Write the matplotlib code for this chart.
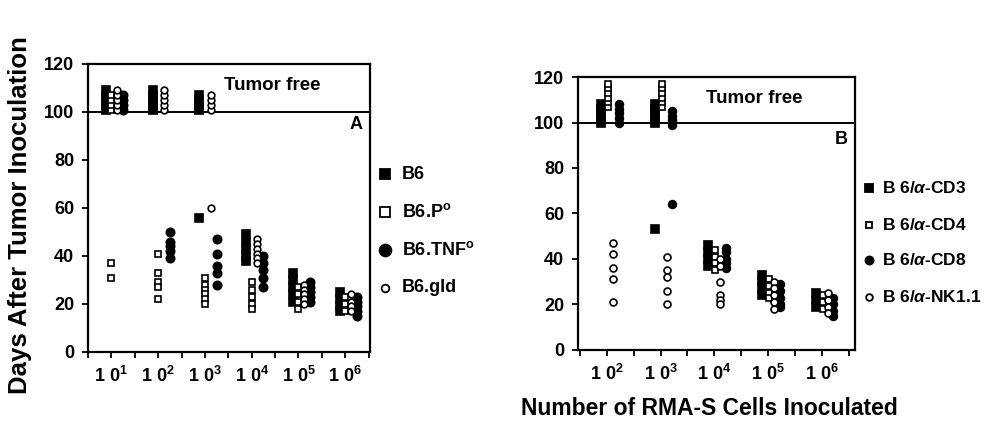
import matplotlib

matplotlib.use("Agg")

import matplotlib.pyplot as plt

plt.rcParams.update(
    {
        "font.family": "Liberation Sans",
        "font.weight": "bold",
        "mathtext.fontset": "custom",
        "mathtext.rm": "Liberation Sans:bold",
        "mathtext.bf": "Liberation Sans:bold",
        "mathtext.it": "Liberation Sans:italic",
        "mathtext.default": "bf",
    }
)

# ---- panel A data (days; >100 = tumor free, stacked) ----
A_DECADES = [1, 2, 3, 4, 5, 6]
A_B6 = [
    [101, 103, 105, 107, 109],
    [101, 103, 105, 107, 109],
    [101, 103, 105, 107, 56],
    [49, 46, 43, 40, 38],
    [33, 30, 27, 24, 21],
    [25, 22, 19, 17],
]
A_P0 = [
    [101, 103, 105, 107, 37, 31],
    [41, 33, 29, 27, 22],
    [31, 28, 26, 24, 22, 20],
    [29, 26, 23, 20, 18],
    [27, 24, 21, 18],
    [23, 20, 17],
]
A_TNF0 = [
    [101, 103, 105, 107],
    [50, 46, 44, 42, 39],
    [47, 41, 36, 33, 28],
    [40, 37, 34, 31, 27],
    [29, 27, 25, 23, 21],
    [23, 21, 19, 17, 15],
]
A_GLD = [
    [101, 103, 105, 107, 109],
    [101, 103, 105, 107, 109],
    [101, 103, 105, 107, 60],
    [47, 45, 43, 41, 39, 37],
    [28, 26, 24, 22, 20],
    [24, 21, 19, 17],
]
A_LABELS = ["B6", "B6.P$^{o}$", "B6.TNF$^{o}$", "B6.gld"]

# ---- panel B data ----
B_DECADES = [2, 3, 4, 5, 6]
B_CD3 = [
    [100, 102, 104, 106, 108],
    [100, 102, 104, 106, 108, 53],
    [46, 43, 40, 37],
    [33, 30, 27, 24],
    [25, 22, 19],
]
B_CD4 = [
    [107, 109, 111, 113, 115, 117],
    [107, 109, 111, 113, 115, 117],
    [44, 41, 38, 35],
    [31, 28, 25, 23],
    [24, 21, 18],
]
B_CD8 = [
    [100, 102, 104, 106, 108],
    [99, 101, 103, 105, 64],
    [45, 43, 40, 38, 36],
    [29, 26, 23, 20, 19],
    [23, 20, 17, 15],
]
B_NK = [
    [47, 42, 36, 31, 21],
    [41, 35, 32, 26, 20],
    [40, 37, 30, 24, 22, 20],
    [30, 27, 24, 21, 18],
    [25, 22, 19, 16],
]
B_LABELS = [r"B 6/$\mathit{\alpha}$-CD3", r"B 6/$\mathit{\alpha}$-CD4",
            r"B 6/$\mathit{\alpha}$-CD8", r"B 6/$\mathit{\alpha}$-NK1.1"]

Y_TICKS = [0, 20, 40, 60, 80, 100, 120]

# marker styles: (marker, filled, size, x offset in decades)
A_STYLES = [("s", True, 6.0, -0.12), ("s", False, 5.0, 0.0),
            ("o", True, 6.0, 0.25), ("o", False, 4.8, 0.12)]
B_STYLES = [("s", True, 6.0, -0.11), ("s", False, 4.6, 0.02),
            ("o", True, 5.6, 0.22), ("o", False, 5.0, 0.11)]
A_LEG_SIZES = [7.5, 6.5, 8.5, 5.5]
B_LEG_SIZES = [5.5, 5.0, 5.8, 4.8]


def draw_series(ax, decades, series, style):
    marker, filled, size, off = style
    for d, vals in zip(decades, series):
        xs = [d + off] * len(vals)
        ax.plot(xs, vals, linestyle="none", marker=marker, markersize=size,
                markerfacecolor="black" if filled else "white",
                markeredgecolor="black", markeredgewidth=1.2, clip_on=False, zorder=3)


def setup_axes(ax, decades, xlim, letter, letter_y, tf_xy):
    ax.set_xlim(*xlim)
    ax.set_ylim(0, 120)
    ax.set_yticks(Y_TICKS)
    ax.set_yticklabels([str(t) for t in Y_TICKS], fontsize=13, fontweight="bold")
    ax.set_xticks(decades)
    ax.set_xticklabels([r"1 0$^{%d}$" % d for d in decades], fontsize=13)
    ax.set_xticks([d + 0.5 for d in [decades[0] - 1] + decades], minor=True)
    ax.tick_params(axis="both", which="major", direction="out", length=4, width=1.3, pad=6)
    ax.tick_params(axis="x", which="minor", direction="out", length=4, width=1.3)
    for sp in ax.spines.values():
        sp.set_linewidth(1.6)
    ax.axhline(100, color="black", linewidth=1.4, zorder=2)
    ax.text(tf_xy[0], tf_xy[1], "Tumor free", fontsize=13.5, fontweight="bold",
            ha="center", va="center")
    ax.text(0.975, letter_y, letter, transform=ax.transAxes,
            fontsize=13, fontweight="bold", ha="right", va="center")


def draw_legend(fig, labels, styles, sizes, x_mark, x_text, ys, fontsize):
    for label, style, size, y in zip(labels, styles, sizes, ys):
        marker, filled = style[0], style[1]
        fig.lines.append(plt.Line2D([x_mark], [y], transform=fig.transFigure,
                                    linestyle="none", marker=marker, markersize=size,
                                    markerfacecolor="black" if filled else "white",
                                    markeredgecolor="black", markeredgewidth=1.3))
        fig.text(x_text, y, label, fontsize=fontsize, fontweight="bold", va="center", ha="left")


fig = plt.figure(figsize=(9.93, 4.21), dpi=100, facecolor="white")
ax_a = fig.add_axes([0.0886, 0.164, 0.284, 0.684])
ax_b = fig.add_axes([0.582, 0.169, 0.279, 0.648])

for series, style in zip([A_B6, A_P0, A_TNF0, A_GLD], A_STYLES):
    draw_series(ax_a, A_DECADES, series, style)
setup_axes(ax_a, A_DECADES, (0.5, 6.53), "A", 0.79, (4.44, 111))

for series, style in zip([B_CD3, B_CD4, B_CD8, B_NK], B_STYLES):
    draw_series(ax_b, B_DECADES, series, style)
setup_axes(ax_b, B_DECADES, (1.46, 6.62), "B", 0.77, (4.74, 110.5))


def fy(px):
    return 1 - px / 421.0


draw_legend(fig, A_LABELS, A_STYLES, A_LEG_SIZES, 385 / 993, 402 / 993,
            [fy(v) for v in (174, 212, 250, 288)], 13)
draw_legend(fig, B_LABELS, B_STYLES, B_LEG_SIZES, 869 / 993, 882 / 993,
            [fy(v) for v in (188, 225, 260, 297)], 12.5)

fig.text(0.02, 0.49, "Days After Tumor Inoculation", rotation=90, fontsize=18.5,
         fontweight="bold", ha="center", va="center")
fig.text(0.714, 0.03, "Number of RMA-S Cells Inoculated", fontsize=16.5,
         fontweight="bold", ha="center", va="center")

fig.savefig("out.png", dpi=100, facecolor="white")
